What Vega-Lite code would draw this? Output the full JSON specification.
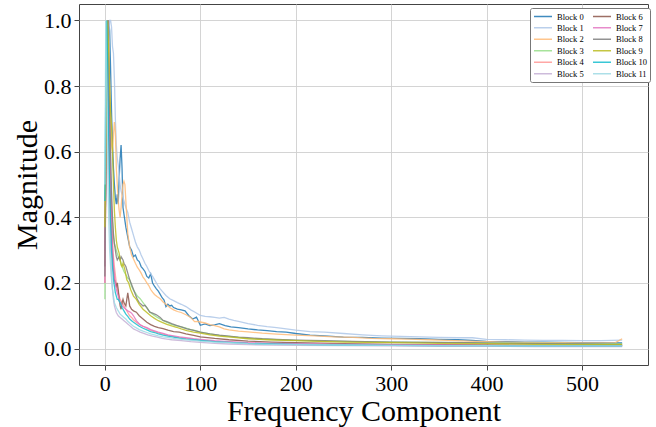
{
  "$schema": "https://vega.github.io/schema/vega-lite/v6.json",
  "width": 569,
  "height": 361,
  "autosize": {"type": "none"},
  "padding": {"left": 79, "top": 4, "right": 8, "bottom": 62},
  "background": "white",
  "config": {
    "view": {"stroke": "#444", "strokeWidth": 1},
    "font": "Liberation Serif",
    "axis": {
      "labelFont": "Liberation Serif", "titleFont": "Liberation Serif",
      "labelFontSize": 22, "titleFontSize": 30, "titleFontWeight": "normal",
      "labelColor": "black", "titleColor": "black",
      "domain": false, "tickColor": "#444", "tickSize": 5, "tickWidth": 1,
      "gridColor": "#cfcfcf", "gridWidth": 0.9, "labelPadding": 3
    },
    "legend": {"labelFont": "Liberation Serif"}
  },
  "data": {"values": [
    {"b":"Block 0","x":0,"y":0.30},{"b":"Block 0","x":1,"y":0.55},{"b":"Block 0","x":2,"y":0.80},{"b":"Block 0","x":3,"y":0.95},{"b":"Block 0","x":4,"y":1.0},{"b":"Block 0","x":5,"y":0.97},{"b":"Block 0","x":6,"y":0.85},{"b":"Block 0","x":7,"y":0.72},{"b":"Block 0","x":8,"y":0.62},{"b":"Block 0","x":9,"y":0.55},{"b":"Block 0","x":10,"y":0.50},{"b":"Block 0","x":11,"y":0.46},{"b":"Block 0","x":12,"y":0.44},{"b":"Block 0","x":13,"y":0.47},{"b":"Block 0","x":14,"y":0.44},{"b":"Block 0","x":15,"y":0.52},{"b":"Block 0","x":16,"y":0.58},{"b":"Block 0","x":17,"y":0.62},{"b":"Block 0","x":18,"y":0.55},{"b":"Block 0","x":19,"y":0.43},{"b":"Block 0","x":20,"y":0.41},{"b":"Block 0","x":22,"y":0.37},{"b":"Block 0","x":24,"y":0.34},{"b":"Block 0","x":26,"y":0.31},{"b":"Block 0","x":28,"y":0.30},{"b":"Block 0","x":30,"y":0.28},{"b":"Block 0","x":32,"y":0.285},{"b":"Block 0","x":34,"y":0.27},{"b":"Block 0","x":36,"y":0.265},{"b":"Block 0","x":38,"y":0.25},{"b":"Block 0","x":40,"y":0.243},{"b":"Block 0","x":42,"y":0.235},{"b":"Block 0","x":44,"y":0.22},{"b":"Block 0","x":46,"y":0.215},{"b":"Block 0","x":48,"y":0.228},{"b":"Block 0","x":50,"y":0.20},{"b":"Block 0","x":52,"y":0.19},{"b":"Block 0","x":54,"y":0.182},{"b":"Block 0","x":56,"y":0.175},{"b":"Block 0","x":58,"y":0.165},{"b":"Block 0","x":60,"y":0.155},{"b":"Block 0","x":62,"y":0.148},{"b":"Block 0","x":64,"y":0.128},{"b":"Block 0","x":66,"y":0.135},{"b":"Block 0","x":68,"y":0.13},{"b":"Block 0","x":70,"y":0.132},{"b":"Block 0","x":72,"y":0.125},{"b":"Block 0","x":76,"y":0.12},{"b":"Block 0","x":80,"y":0.118},{"b":"Block 0","x":84,"y":0.115},{"b":"Block 0","x":88,"y":0.10},{"b":"Block 0","x":92,"y":0.09},{"b":"Block 0","x":96,"y":0.096},{"b":"Block 0","x":100,"y":0.071},{"b":"Block 0","x":105,"y":0.075},{"b":"Block 0","x":110,"y":0.07},{"b":"Block 0","x":115,"y":0.072},{"b":"Block 0","x":120,"y":0.076},{"b":"Block 0","x":126,"y":0.07},{"b":"Block 0","x":132,"y":0.066},{"b":"Block 0","x":140,"y":0.064},{"b":"Block 0","x":150,"y":0.06},{"b":"Block 0","x":160,"y":0.057},{"b":"Block 0","x":170,"y":0.055},{"b":"Block 0","x":180,"y":0.052},{"b":"Block 0","x":190,"y":0.05},{"b":"Block 0","x":200,"y":0.046},{"b":"Block 0","x":215,"y":0.041},{"b":"Block 0","x":230,"y":0.039},{"b":"Block 0","x":250,"y":0.035},{"b":"Block 0","x":270,"y":0.034},{"b":"Block 0","x":290,"y":0.032},{"b":"Block 0","x":310,"y":0.031},{"b":"Block 0","x":330,"y":0.03},{"b":"Block 0","x":350,"y":0.028},{"b":"Block 0","x":370,"y":0.027},{"b":"Block 0","x":385,"y":0.025},{"b":"Block 0","x":400,"y":0.022},{"b":"Block 0","x":420,"y":0.021},{"b":"Block 0","x":440,"y":0.02},{"b":"Block 0","x":460,"y":0.02},{"b":"Block 0","x":480,"y":0.019},{"b":"Block 0","x":500,"y":0.018},{"b":"Block 0","x":520,"y":0.018},{"b":"Block 0","x":542,"y":0.017},

    {"b":"Block 1","x":0,"y":0.35},{"b":"Block 1","x":1,"y":0.50},{"b":"Block 1","x":2,"y":0.70},{"b":"Block 1","x":3,"y":0.85},{"b":"Block 1","x":4,"y":0.95},{"b":"Block 1","x":5,"y":1.0},{"b":"Block 1","x":6,"y":1.0},{"b":"Block 1","x":7,"y":0.98},{"b":"Block 1","x":8,"y":0.92},{"b":"Block 1","x":9,"y":0.90},{"b":"Block 1","x":10,"y":0.82},{"b":"Block 1","x":11,"y":0.70},{"b":"Block 1","x":12,"y":0.62},{"b":"Block 1","x":13,"y":0.58},{"b":"Block 1","x":14,"y":0.56},{"b":"Block 1","x":15,"y":0.53},{"b":"Block 1","x":16,"y":0.50},{"b":"Block 1","x":17,"y":0.48},{"b":"Block 1","x":18,"y":0.47},{"b":"Block 1","x":20,"y":0.45},{"b":"Block 1","x":22,"y":0.43},{"b":"Block 1","x":24,"y":0.415},{"b":"Block 1","x":26,"y":0.385},{"b":"Block 1","x":28,"y":0.365},{"b":"Block 1","x":30,"y":0.345},{"b":"Block 1","x":32,"y":0.325},{"b":"Block 1","x":34,"y":0.31},{"b":"Block 1","x":36,"y":0.30},{"b":"Block 1","x":38,"y":0.285},{"b":"Block 1","x":40,"y":0.273},{"b":"Block 1","x":42,"y":0.26},{"b":"Block 1","x":44,"y":0.25},{"b":"Block 1","x":46,"y":0.238},{"b":"Block 1","x":48,"y":0.228},{"b":"Block 1","x":50,"y":0.22},{"b":"Block 1","x":52,"y":0.21},{"b":"Block 1","x":54,"y":0.20},{"b":"Block 1","x":56,"y":0.19},{"b":"Block 1","x":58,"y":0.182},{"b":"Block 1","x":60,"y":0.175},{"b":"Block 1","x":64,"y":0.162},{"b":"Block 1","x":68,"y":0.152},{"b":"Block 1","x":72,"y":0.146},{"b":"Block 1","x":76,"y":0.14},{"b":"Block 1","x":80,"y":0.135},{"b":"Block 1","x":85,"y":0.128},{"b":"Block 1","x":90,"y":0.118},{"b":"Block 1","x":95,"y":0.11},{"b":"Block 1","x":100,"y":0.101},{"b":"Block 1","x":105,"y":0.098},{"b":"Block 1","x":110,"y":0.097},{"b":"Block 1","x":115,"y":0.095},{"b":"Block 1","x":120,"y":0.093},{"b":"Block 1","x":125,"y":0.095},{"b":"Block 1","x":130,"y":0.09},{"b":"Block 1","x":135,"y":0.086},{"b":"Block 1","x":140,"y":0.083},{"b":"Block 1","x":150,"y":0.076},{"b":"Block 1","x":160,"y":0.071},{"b":"Block 1","x":170,"y":0.067},{"b":"Block 1","x":180,"y":0.064},{"b":"Block 1","x":190,"y":0.06},{"b":"Block 1","x":200,"y":0.056},{"b":"Block 1","x":215,"y":0.052},{"b":"Block 1","x":230,"y":0.05},{"b":"Block 1","x":250,"y":0.046},{"b":"Block 1","x":270,"y":0.042},{"b":"Block 1","x":290,"y":0.039},{"b":"Block 1","x":310,"y":0.037},{"b":"Block 1","x":330,"y":0.036},{"b":"Block 1","x":350,"y":0.034},{"b":"Block 1","x":370,"y":0.033},{"b":"Block 1","x":385,"y":0.033},{"b":"Block 1","x":400,"y":0.028},{"b":"Block 1","x":420,"y":0.027},{"b":"Block 1","x":440,"y":0.026},{"b":"Block 1","x":460,"y":0.025},{"b":"Block 1","x":480,"y":0.025},{"b":"Block 1","x":500,"y":0.024},{"b":"Block 1","x":520,"y":0.024},{"b":"Block 1","x":542,"y":0.026},

    {"b":"Block 2","x":0,"y":0.30},{"b":"Block 2","x":1,"y":0.60},{"b":"Block 2","x":2,"y":0.85},{"b":"Block 2","x":3,"y":1.0},{"b":"Block 2","x":4,"y":0.95},{"b":"Block 2","x":5,"y":0.80},{"b":"Block 2","x":6,"y":0.70},{"b":"Block 2","x":7,"y":0.62},{"b":"Block 2","x":8,"y":0.60},{"b":"Block 2","x":9,"y":0.65},{"b":"Block 2","x":10,"y":0.69},{"b":"Block 2","x":11,"y":0.66},{"b":"Block 2","x":12,"y":0.55},{"b":"Block 2","x":13,"y":0.50},{"b":"Block 2","x":14,"y":0.45},{"b":"Block 2","x":15,"y":0.42},{"b":"Block 2","x":16,"y":0.40},{"b":"Block 2","x":17,"y":0.43},{"b":"Block 2","x":18,"y":0.47},{"b":"Block 2","x":19,"y":0.50},{"b":"Block 2","x":20,"y":0.51},{"b":"Block 2","x":21,"y":0.50},{"b":"Block 2","x":22,"y":0.45},{"b":"Block 2","x":23,"y":0.40},{"b":"Block 2","x":24,"y":0.35},{"b":"Block 2","x":26,"y":0.31},{"b":"Block 2","x":28,"y":0.285},{"b":"Block 2","x":30,"y":0.273},{"b":"Block 2","x":32,"y":0.26},{"b":"Block 2","x":34,"y":0.248},{"b":"Block 2","x":36,"y":0.24},{"b":"Block 2","x":38,"y":0.23},{"b":"Block 2","x":40,"y":0.218},{"b":"Block 2","x":42,"y":0.21},{"b":"Block 2","x":44,"y":0.20},{"b":"Block 2","x":46,"y":0.192},{"b":"Block 2","x":48,"y":0.18},{"b":"Block 2","x":50,"y":0.172},{"b":"Block 2","x":52,"y":0.165},{"b":"Block 2","x":55,"y":0.158},{"b":"Block 2","x":58,"y":0.152},{"b":"Block 2","x":61,"y":0.142},{"b":"Block 2","x":64,"y":0.135},{"b":"Block 2","x":68,"y":0.125},{"b":"Block 2","x":72,"y":0.118},{"b":"Block 2","x":76,"y":0.113},{"b":"Block 2","x":80,"y":0.11},{"b":"Block 2","x":85,"y":0.103},{"b":"Block 2","x":90,"y":0.095},{"b":"Block 2","x":94,"y":0.082},{"b":"Block 2","x":98,"y":0.083},{"b":"Block 2","x":100,"y":0.081},{"b":"Block 2","x":105,"y":0.078},{"b":"Block 2","x":110,"y":0.073},{"b":"Block 2","x":115,"y":0.07},{"b":"Block 2","x":120,"y":0.066},{"b":"Block 2","x":125,"y":0.06},{"b":"Block 2","x":130,"y":0.057},{"b":"Block 2","x":140,"y":0.053},{"b":"Block 2","x":150,"y":0.051},{"b":"Block 2","x":165,"y":0.047},{"b":"Block 2","x":180,"y":0.044},{"b":"Block 2","x":200,"y":0.041},{"b":"Block 2","x":220,"y":0.039},{"b":"Block 2","x":240,"y":0.036},{"b":"Block 2","x":260,"y":0.034},{"b":"Block 2","x":280,"y":0.031},{"b":"Block 2","x":300,"y":0.03},{"b":"Block 2","x":320,"y":0.029},{"b":"Block 2","x":340,"y":0.027},{"b":"Block 2","x":360,"y":0.025},{"b":"Block 2","x":380,"y":0.023},{"b":"Block 2","x":400,"y":0.021},{"b":"Block 2","x":420,"y":0.02},{"b":"Block 2","x":440,"y":0.019},{"b":"Block 2","x":460,"y":0.018},{"b":"Block 2","x":480,"y":0.018},{"b":"Block 2","x":500,"y":0.017},{"b":"Block 2","x":520,"y":0.017},{"b":"Block 2","x":535,"y":0.018},{"b":"Block 2","x":542,"y":0.03},

    {"b":"Block 3","x":0,"y":0.15},{"b":"Block 3","x":1,"y":0.60},{"b":"Block 3","x":2,"y":1.0},{"b":"Block 3","x":3,"y":0.90},{"b":"Block 3","x":4,"y":0.75},{"b":"Block 3","x":5,"y":0.60},{"b":"Block 3","x":6,"y":0.50},{"b":"Block 3","x":7,"y":0.42},{"b":"Block 3","x":8,"y":0.38},{"b":"Block 3","x":9,"y":0.34},{"b":"Block 3","x":10,"y":0.32},{"b":"Block 3","x":12,"y":0.30},{"b":"Block 3","x":14,"y":0.28},{"b":"Block 3","x":16,"y":0.27},{"b":"Block 3","x":18,"y":0.25},{"b":"Block 3","x":20,"y":0.235},{"b":"Block 3","x":22,"y":0.225},{"b":"Block 3","x":24,"y":0.215},{"b":"Block 3","x":26,"y":0.21},{"b":"Block 3","x":28,"y":0.19},{"b":"Block 3","x":30,"y":0.178},{"b":"Block 3","x":32,"y":0.17},{"b":"Block 3","x":34,"y":0.16},{"b":"Block 3","x":37,"y":0.152},{"b":"Block 3","x":40,"y":0.14},{"b":"Block 3","x":43,"y":0.128},{"b":"Block 3","x":47,"y":0.112},{"b":"Block 3","x":50,"y":0.105},{"b":"Block 3","x":55,"y":0.095},{"b":"Block 3","x":60,"y":0.087},{"b":"Block 3","x":65,"y":0.08},{"b":"Block 3","x":70,"y":0.074},{"b":"Block 3","x":75,"y":0.069},{"b":"Block 3","x":80,"y":0.066},{"b":"Block 3","x":85,"y":0.062},{"b":"Block 3","x":90,"y":0.058},{"b":"Block 3","x":95,"y":0.055},{"b":"Block 3","x":100,"y":0.05},{"b":"Block 3","x":110,"y":0.045},{"b":"Block 3","x":120,"y":0.04},{"b":"Block 3","x":130,"y":0.037},{"b":"Block 3","x":140,"y":0.034},{"b":"Block 3","x":150,"y":0.031},{"b":"Block 3","x":165,"y":0.029},{"b":"Block 3","x":180,"y":0.027},{"b":"Block 3","x":200,"y":0.025},{"b":"Block 3","x":230,"y":0.023},{"b":"Block 3","x":260,"y":0.021},{"b":"Block 3","x":300,"y":0.02},{"b":"Block 3","x":340,"y":0.019},{"b":"Block 3","x":380,"y":0.018},{"b":"Block 3","x":420,"y":0.017},{"b":"Block 3","x":460,"y":0.016},{"b":"Block 3","x":500,"y":0.015},{"b":"Block 3","x":542,"y":0.015},

    {"b":"Block 4","x":0,"y":0.20},{"b":"Block 4","x":1,"y":0.50},{"b":"Block 4","x":2,"y":0.85},{"b":"Block 4","x":3,"y":1.0},{"b":"Block 4","x":4,"y":0.80},{"b":"Block 4","x":5,"y":0.60},{"b":"Block 4","x":6,"y":0.48},{"b":"Block 4","x":7,"y":0.40},{"b":"Block 4","x":8,"y":0.33},{"b":"Block 4","x":9,"y":0.28},{"b":"Block 4","x":10,"y":0.25},{"b":"Block 4","x":12,"y":0.20},{"b":"Block 4","x":14,"y":0.17},{"b":"Block 4","x":16,"y":0.15},{"b":"Block 4","x":18,"y":0.14},{"b":"Block 4","x":20,"y":0.13},{"b":"Block 4","x":22,"y":0.12},{"b":"Block 4","x":24,"y":0.11},{"b":"Block 4","x":26,"y":0.10},{"b":"Block 4","x":28,"y":0.095},{"b":"Block 4","x":30,"y":0.088},{"b":"Block 4","x":33,"y":0.08},{"b":"Block 4","x":36,"y":0.074},{"b":"Block 4","x":40,"y":0.068},{"b":"Block 4","x":44,"y":0.062},{"b":"Block 4","x":48,"y":0.056},{"b":"Block 4","x":52,"y":0.052},{"b":"Block 4","x":56,"y":0.048},{"b":"Block 4","x":60,"y":0.045},{"b":"Block 4","x":65,"y":0.041},{"b":"Block 4","x":70,"y":0.038},{"b":"Block 4","x":75,"y":0.035},{"b":"Block 4","x":80,"y":0.033},{"b":"Block 4","x":90,"y":0.029},{"b":"Block 4","x":100,"y":0.026},{"b":"Block 4","x":115,"y":0.022},{"b":"Block 4","x":130,"y":0.02},{"b":"Block 4","x":150,"y":0.017},{"b":"Block 4","x":175,"y":0.015},{"b":"Block 4","x":200,"y":0.013},{"b":"Block 4","x":250,"y":0.012},{"b":"Block 4","x":300,"y":0.011},{"b":"Block 4","x":350,"y":0.01},{"b":"Block 4","x":400,"y":0.009},{"b":"Block 4","x":450,"y":0.009},{"b":"Block 4","x":500,"y":0.008},{"b":"Block 4","x":542,"y":0.008},

    {"b":"Block 5","x":0,"y":0.30},{"b":"Block 5","x":1,"y":0.70},{"b":"Block 5","x":2,"y":1.0},{"b":"Block 5","x":3,"y":0.80},{"b":"Block 5","x":4,"y":0.55},{"b":"Block 5","x":5,"y":0.40},{"b":"Block 5","x":6,"y":0.30},{"b":"Block 5","x":7,"y":0.22},{"b":"Block 5","x":8,"y":0.18},{"b":"Block 5","x":9,"y":0.15},{"b":"Block 5","x":10,"y":0.13},{"b":"Block 5","x":12,"y":0.11},{"b":"Block 5","x":14,"y":0.10},{"b":"Block 5","x":16,"y":0.095},{"b":"Block 5","x":18,"y":0.09},{"b":"Block 5","x":20,"y":0.085},{"b":"Block 5","x":22,"y":0.08},{"b":"Block 5","x":24,"y":0.075},{"b":"Block 5","x":26,"y":0.07},{"b":"Block 5","x":28,"y":0.065},{"b":"Block 5","x":30,"y":0.06},{"b":"Block 5","x":33,"y":0.056},{"b":"Block 5","x":37,"y":0.05},{"b":"Block 5","x":40,"y":0.047},{"b":"Block 5","x":45,"y":0.042},{"b":"Block 5","x":50,"y":0.038},{"b":"Block 5","x":55,"y":0.035},{"b":"Block 5","x":60,"y":0.031},{"b":"Block 5","x":65,"y":0.029},{"b":"Block 5","x":70,"y":0.027},{"b":"Block 5","x":80,"y":0.024},{"b":"Block 5","x":90,"y":0.021},{"b":"Block 5","x":100,"y":0.019},{"b":"Block 5","x":115,"y":0.016},{"b":"Block 5","x":130,"y":0.014},{"b":"Block 5","x":150,"y":0.012},{"b":"Block 5","x":175,"y":0.011},{"b":"Block 5","x":200,"y":0.01},{"b":"Block 5","x":250,"y":0.009},{"b":"Block 5","x":300,"y":0.008},{"b":"Block 5","x":350,"y":0.007},{"b":"Block 5","x":400,"y":0.007},{"b":"Block 5","x":450,"y":0.006},{"b":"Block 5","x":500,"y":0.006},{"b":"Block 5","x":542,"y":0.006},

    {"b":"Block 6","x":0,"y":0.25},{"b":"Block 6","x":1,"y":0.60},{"b":"Block 6","x":2,"y":0.90},{"b":"Block 6","x":3,"y":1.0},{"b":"Block 6","x":4,"y":0.80},{"b":"Block 6","x":5,"y":0.60},{"b":"Block 6","x":6,"y":0.45},{"b":"Block 6","x":7,"y":0.35},{"b":"Block 6","x":8,"y":0.28},{"b":"Block 6","x":9,"y":0.24},{"b":"Block 6","x":10,"y":0.21},{"b":"Block 6","x":11,"y":0.20},{"b":"Block 6","x":12,"y":0.19},{"b":"Block 6","x":13,"y":0.20},{"b":"Block 6","x":14,"y":0.18},{"b":"Block 6","x":15,"y":0.15},{"b":"Block 6","x":16,"y":0.13},{"b":"Block 6","x":17,"y":0.12},{"b":"Block 6","x":18,"y":0.14},{"b":"Block 6","x":19,"y":0.15},{"b":"Block 6","x":20,"y":0.14},{"b":"Block 6","x":22,"y":0.13},{"b":"Block 6","x":24,"y":0.17},{"b":"Block 6","x":25,"y":0.15},{"b":"Block 6","x":26,"y":0.13},{"b":"Block 6","x":28,"y":0.12},{"b":"Block 6","x":30,"y":0.115},{"b":"Block 6","x":33,"y":0.111},{"b":"Block 6","x":36,"y":0.10},{"b":"Block 6","x":40,"y":0.09},{"b":"Block 6","x":44,"y":0.08},{"b":"Block 6","x":48,"y":0.073},{"b":"Block 6","x":52,"y":0.068},{"b":"Block 6","x":56,"y":0.064},{"b":"Block 6","x":61,"y":0.061},{"b":"Block 6","x":66,"y":0.056},{"b":"Block 6","x":72,"y":0.052},{"b":"Block 6","x":78,"y":0.05},{"b":"Block 6","x":85,"y":0.045},{"b":"Block 6","x":93,"y":0.04},{"b":"Block 6","x":100,"y":0.036},{"b":"Block 6","x":115,"y":0.031},{"b":"Block 6","x":130,"y":0.027},{"b":"Block 6","x":150,"y":0.023},{"b":"Block 6","x":175,"y":0.02},{"b":"Block 6","x":200,"y":0.018},{"b":"Block 6","x":250,"y":0.015},{"b":"Block 6","x":300,"y":0.013},{"b":"Block 6","x":350,"y":0.012},{"b":"Block 6","x":400,"y":0.011},{"b":"Block 6","x":450,"y":0.01},{"b":"Block 6","x":500,"y":0.01},{"b":"Block 6","x":542,"y":0.01},

    {"b":"Block 7","x":0,"y":0.20},{"b":"Block 7","x":1,"y":0.55},{"b":"Block 7","x":2,"y":0.90},{"b":"Block 7","x":3,"y":1.0},{"b":"Block 7","x":4,"y":0.85},{"b":"Block 7","x":5,"y":0.65},{"b":"Block 7","x":6,"y":0.50},{"b":"Block 7","x":7,"y":0.38},{"b":"Block 7","x":8,"y":0.30},{"b":"Block 7","x":9,"y":0.25},{"b":"Block 7","x":10,"y":0.22},{"b":"Block 7","x":12,"y":0.18},{"b":"Block 7","x":14,"y":0.16},{"b":"Block 7","x":16,"y":0.14},{"b":"Block 7","x":18,"y":0.13},{"b":"Block 7","x":20,"y":0.125},{"b":"Block 7","x":22,"y":0.12},{"b":"Block 7","x":24,"y":0.115},{"b":"Block 7","x":26,"y":0.112},{"b":"Block 7","x":28,"y":0.108},{"b":"Block 7","x":30,"y":0.10},{"b":"Block 7","x":33,"y":0.085},{"b":"Block 7","x":37,"y":0.072},{"b":"Block 7","x":40,"y":0.068},{"b":"Block 7","x":44,"y":0.064},{"b":"Block 7","x":48,"y":0.058},{"b":"Block 7","x":52,"y":0.054},{"b":"Block 7","x":56,"y":0.05},{"b":"Block 7","x":61,"y":0.046},{"b":"Block 7","x":66,"y":0.042},{"b":"Block 7","x":72,"y":0.039},{"b":"Block 7","x":78,"y":0.036},{"b":"Block 7","x":85,"y":0.033},{"b":"Block 7","x":93,"y":0.03},{"b":"Block 7","x":100,"y":0.028},{"b":"Block 7","x":115,"y":0.024},{"b":"Block 7","x":130,"y":0.021},{"b":"Block 7","x":150,"y":0.018},{"b":"Block 7","x":175,"y":0.016},{"b":"Block 7","x":200,"y":0.015},{"b":"Block 7","x":250,"y":0.013},{"b":"Block 7","x":300,"y":0.012},{"b":"Block 7","x":350,"y":0.011},{"b":"Block 7","x":400,"y":0.01},{"b":"Block 7","x":450,"y":0.01},{"b":"Block 7","x":500,"y":0.009},{"b":"Block 7","x":542,"y":0.009},

    {"b":"Block 8","x":0,"y":0.22},{"b":"Block 8","x":1,"y":0.55},{"b":"Block 8","x":2,"y":0.90},{"b":"Block 8","x":3,"y":1.0},{"b":"Block 8","x":4,"y":0.90},{"b":"Block 8","x":5,"y":0.75},{"b":"Block 8","x":6,"y":0.60},{"b":"Block 8","x":7,"y":0.48},{"b":"Block 8","x":8,"y":0.40},{"b":"Block 8","x":9,"y":0.35},{"b":"Block 8","x":10,"y":0.32},{"b":"Block 8","x":11,"y":0.30},{"b":"Block 8","x":12,"y":0.28},{"b":"Block 8","x":13,"y":0.27},{"b":"Block 8","x":14,"y":0.275},{"b":"Block 8","x":15,"y":0.28},{"b":"Block 8","x":16,"y":0.27},{"b":"Block 8","x":17,"y":0.28},{"b":"Block 8","x":18,"y":0.275},{"b":"Block 8","x":19,"y":0.27},{"b":"Block 8","x":20,"y":0.26},{"b":"Block 8","x":22,"y":0.25},{"b":"Block 8","x":24,"y":0.23},{"b":"Block 8","x":26,"y":0.21},{"b":"Block 8","x":28,"y":0.195},{"b":"Block 8","x":30,"y":0.18},{"b":"Block 8","x":32,"y":0.165},{"b":"Block 8","x":34,"y":0.15},{"b":"Block 8","x":36,"y":0.14},{"b":"Block 8","x":38,"y":0.135},{"b":"Block 8","x":40,"y":0.13},{"b":"Block 8","x":42,"y":0.132},{"b":"Block 8","x":44,"y":0.125},{"b":"Block 8","x":47,"y":0.111},{"b":"Block 8","x":50,"y":0.108},{"b":"Block 8","x":54,"y":0.103},{"b":"Block 8","x":58,"y":0.095},{"b":"Block 8","x":61,"y":0.086},{"b":"Block 8","x":65,"y":0.082},{"b":"Block 8","x":70,"y":0.076},{"b":"Block 8","x":75,"y":0.071},{"b":"Block 8","x":80,"y":0.066},{"b":"Block 8","x":86,"y":0.06},{"b":"Block 8","x":92,"y":0.056},{"b":"Block 8","x":100,"y":0.05},{"b":"Block 8","x":110,"y":0.045},{"b":"Block 8","x":120,"y":0.041},{"b":"Block 8","x":130,"y":0.038},{"b":"Block 8","x":140,"y":0.035},{"b":"Block 8","x":150,"y":0.033},{"b":"Block 8","x":165,"y":0.03},{"b":"Block 8","x":180,"y":0.028},{"b":"Block 8","x":200,"y":0.026},{"b":"Block 8","x":230,"y":0.024},{"b":"Block 8","x":260,"y":0.022},{"b":"Block 8","x":300,"y":0.02},{"b":"Block 8","x":340,"y":0.019},{"b":"Block 8","x":380,"y":0.018},{"b":"Block 8","x":420,"y":0.016},{"b":"Block 8","x":460,"y":0.015},{"b":"Block 8","x":500,"y":0.014},{"b":"Block 8","x":542,"y":0.013},

    {"b":"Block 9","x":0,"y":0.37},{"b":"Block 9","x":1,"y":0.60},{"b":"Block 9","x":2,"y":0.85},{"b":"Block 9","x":3,"y":1.0},{"b":"Block 9","x":4,"y":0.90},{"b":"Block 9","x":5,"y":0.80},{"b":"Block 9","x":6,"y":0.72},{"b":"Block 9","x":7,"y":0.68},{"b":"Block 9","x":8,"y":0.60},{"b":"Block 9","x":9,"y":0.50},{"b":"Block 9","x":10,"y":0.42},{"b":"Block 9","x":11,"y":0.37},{"b":"Block 9","x":12,"y":0.33},{"b":"Block 9","x":13,"y":0.31},{"b":"Block 9","x":14,"y":0.30},{"b":"Block 9","x":15,"y":0.29},{"b":"Block 9","x":16,"y":0.27},{"b":"Block 9","x":17,"y":0.255},{"b":"Block 9","x":18,"y":0.25},{"b":"Block 9","x":19,"y":0.26},{"b":"Block 9","x":20,"y":0.25},{"b":"Block 9","x":21,"y":0.24},{"b":"Block 9","x":23,"y":0.21},{"b":"Block 9","x":25,"y":0.20},{"b":"Block 9","x":27,"y":0.18},{"b":"Block 9","x":30,"y":0.16},{"b":"Block 9","x":33,"y":0.15},{"b":"Block 9","x":36,"y":0.135},{"b":"Block 9","x":40,"y":0.12},{"b":"Block 9","x":44,"y":0.11},{"b":"Block 9","x":48,"y":0.10},{"b":"Block 9","x":52,"y":0.092},{"b":"Block 9","x":56,"y":0.085},{"b":"Block 9","x":60,"y":0.08},{"b":"Block 9","x":65,"y":0.074},{"b":"Block 9","x":70,"y":0.069},{"b":"Block 9","x":75,"y":0.065},{"b":"Block 9","x":80,"y":0.06},{"b":"Block 9","x":86,"y":0.055},{"b":"Block 9","x":93,"y":0.05},{"b":"Block 9","x":100,"y":0.047},{"b":"Block 9","x":110,"y":0.042},{"b":"Block 9","x":120,"y":0.038},{"b":"Block 9","x":135,"y":0.034},{"b":"Block 9","x":150,"y":0.03},{"b":"Block 9","x":170,"y":0.027},{"b":"Block 9","x":200,"y":0.024},{"b":"Block 9","x":250,"y":0.02},{"b":"Block 9","x":300,"y":0.018},{"b":"Block 9","x":350,"y":0.016},{"b":"Block 9","x":400,"y":0.015},{"b":"Block 9","x":450,"y":0.013},{"b":"Block 9","x":500,"y":0.012},{"b":"Block 9","x":542,"y":0.012},

    {"b":"Block 10","x":0,"y":0.45},{"b":"Block 10","x":1,"y":0.80},{"b":"Block 10","x":2,"y":1.0},{"b":"Block 10","x":3,"y":0.85},{"b":"Block 10","x":4,"y":0.65},{"b":"Block 10","x":5,"y":0.50},{"b":"Block 10","x":6,"y":0.38},{"b":"Block 10","x":7,"y":0.30},{"b":"Block 10","x":8,"y":0.25},{"b":"Block 10","x":9,"y":0.21},{"b":"Block 10","x":10,"y":0.19},{"b":"Block 10","x":11,"y":0.17},{"b":"Block 10","x":12,"y":0.16},{"b":"Block 10","x":13,"y":0.15},{"b":"Block 10","x":14,"y":0.15},{"b":"Block 10","x":16,"y":0.14},{"b":"Block 10","x":18,"y":0.125},{"b":"Block 10","x":20,"y":0.115},{"b":"Block 10","x":22,"y":0.105},{"b":"Block 10","x":24,"y":0.098},{"b":"Block 10","x":26,"y":0.09},{"b":"Block 10","x":28,"y":0.085},{"b":"Block 10","x":30,"y":0.08},{"b":"Block 10","x":33,"y":0.074},{"b":"Block 10","x":36,"y":0.068},{"b":"Block 10","x":40,"y":0.062},{"b":"Block 10","x":44,"y":0.057},{"b":"Block 10","x":48,"y":0.052},{"b":"Block 10","x":52,"y":0.049},{"b":"Block 10","x":56,"y":0.045},{"b":"Block 10","x":61,"y":0.041},{"b":"Block 10","x":66,"y":0.038},{"b":"Block 10","x":72,"y":0.035},{"b":"Block 10","x":78,"y":0.032},{"b":"Block 10","x":85,"y":0.029},{"b":"Block 10","x":93,"y":0.027},{"b":"Block 10","x":100,"y":0.025},{"b":"Block 10","x":115,"y":0.021},{"b":"Block 10","x":130,"y":0.019},{"b":"Block 10","x":150,"y":0.016},{"b":"Block 10","x":175,"y":0.014},{"b":"Block 10","x":200,"y":0.013},{"b":"Block 10","x":250,"y":0.011},{"b":"Block 10","x":300,"y":0.01},{"b":"Block 10","x":350,"y":0.009},{"b":"Block 10","x":400,"y":0.009},{"b":"Block 10","x":450,"y":0.008},{"b":"Block 10","x":500,"y":0.008},{"b":"Block 10","x":542,"y":0.008},

    {"b":"Block 11","x":0,"y":0.50},{"b":"Block 11","x":1,"y":1.0},{"b":"Block 11","x":2,"y":0.80},{"b":"Block 11","x":3,"y":0.55},{"b":"Block 11","x":4,"y":0.40},{"b":"Block 11","x":5,"y":0.30},{"b":"Block 11","x":6,"y":0.25},{"b":"Block 11","x":7,"y":0.21},{"b":"Block 11","x":8,"y":0.18},{"b":"Block 11","x":9,"y":0.16},{"b":"Block 11","x":10,"y":0.14},{"b":"Block 11","x":12,"y":0.125},{"b":"Block 11","x":14,"y":0.115},{"b":"Block 11","x":16,"y":0.105},{"b":"Block 11","x":18,"y":0.10},{"b":"Block 11","x":20,"y":0.095},{"b":"Block 11","x":22,"y":0.09},{"b":"Block 11","x":24,"y":0.083},{"b":"Block 11","x":26,"y":0.078},{"b":"Block 11","x":28,"y":0.073},{"b":"Block 11","x":30,"y":0.068},{"b":"Block 11","x":33,"y":0.063},{"b":"Block 11","x":36,"y":0.058},{"b":"Block 11","x":40,"y":0.053},{"b":"Block 11","x":44,"y":0.049},{"b":"Block 11","x":48,"y":0.045},{"b":"Block 11","x":52,"y":0.042},{"b":"Block 11","x":56,"y":0.039},{"b":"Block 11","x":61,"y":0.036},{"b":"Block 11","x":66,"y":0.034},{"b":"Block 11","x":72,"y":0.031},{"b":"Block 11","x":78,"y":0.029},{"b":"Block 11","x":85,"y":0.027},{"b":"Block 11","x":93,"y":0.025},{"b":"Block 11","x":100,"y":0.023},{"b":"Block 11","x":115,"y":0.02},{"b":"Block 11","x":130,"y":0.018},{"b":"Block 11","x":150,"y":0.015},{"b":"Block 11","x":175,"y":0.013},{"b":"Block 11","x":200,"y":0.012},{"b":"Block 11","x":250,"y":0.011},{"b":"Block 11","x":300,"y":0.01},{"b":"Block 11","x":350,"y":0.009},{"b":"Block 11","x":400,"y":0.009},{"b":"Block 11","x":450,"y":0.008},{"b":"Block 11","x":500,"y":0.008},{"b":"Block 11","x":542,"y":0.008}
  ]},
  "mark": {"type": "line", "strokeWidth": 1.3, "opacity": 0.85, "clip": true},
  "encoding": {
    "x": {"field": "x", "type": "quantitative",
      "scale": {"domain": [-27.1, 569.1], "nice": false, "zero": false},
      "axis": {"values": [0, 100, 200, 300, 400, 500], "title": "Frequency Component", "titlePadding": 2, "grid": true,
        "labelFont": "Liberation Serif", "labelFontSize": 22, "titleFont": "Liberation Serif"}},
    "y": {"field": "y", "type": "quantitative",
      "scale": {"domain": [-0.05, 1.05], "nice": false, "zero": false},
      "axis": {"values": [0, 0.2, 0.4, 0.6, 0.8, 1.0], "format": ".1f", "title": "Magnitude", "titlePadding": 1, "grid": true,
        "labelFont": "Liberation Serif", "labelFontSize": 22, "titleFont": "Liberation Serif"}},
    "color": {"field": "b", "type": "nominal",
      "scale": {
        "domain": ["Block 0","Block 1","Block 2","Block 3","Block 4","Block 5","Block 6","Block 7","Block 8","Block 9","Block 10","Block 11"],
        "range": ["#1f77b4","#aec7e8","#ffbb78","#98df8a","#ff9896","#c5b0d5","#8c564b","#e377c2","#7f7f7f","#bcbd22","#17becf","#9edae5"]
      },
      "legend": {
        "title": null, "orient": "none", "legendX": 451, "legendY": 4,
        "columns": 2, "columnPadding": 8, "rowPadding": 0.5, "clipHeight": 10.5,
        "symbolType": "stroke", "symbolSize": 324, "symbolStrokeWidth": 1.5,
        "labelFont": "Liberation Serif", "labelFontSize": 8.5, "labelColor": "black",
        "strokeColor": "#777", "fillColor": "white", "padding": 3, "cornerRadius": 2
      }
    }
  }
}
